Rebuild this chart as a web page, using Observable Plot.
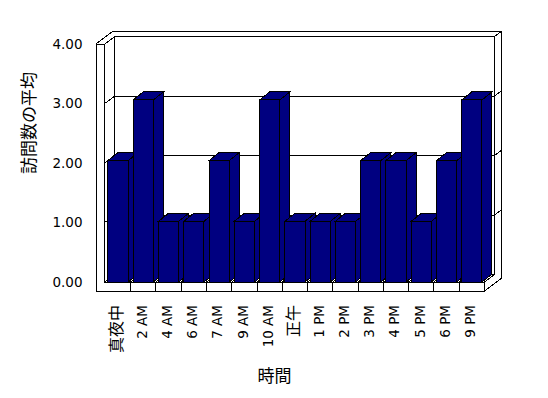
<!DOCTYPE html>
<html>
<head>
<meta charset="utf-8">
<script src="https://cdn.jsdelivr.net/npm/d3@7"></script>
<script src="https://cdn.jsdelivr.net/npm/@observablehq/plot@0.6"></script>
<style>
  html, body { margin: 0; padding: 0; background: white; }
</style>
</head>
<body>
<div id="chart"></div>
<script>
// ---- data ----
const categories = ["真夜中", "2 AM", "4 AM", "6 AM", "7 AM", "9 AM", "10 AM", "正午", "1 PM", "2 PM", "3 PM", "4 PM", "5 PM", "6 PM", "9 PM"];
const visits = [2, 3, 1, 1, 2, 1, 3, 1, 1, 1, 2, 2, 1, 2, 3];
const yTicks = [0, 1, 2, 3, 4];
const yTitle = "訪問数の平均";
const xTitle = "時間";

const data = categories.map((c, i) => ({cat: c, val: visits[i]}));

// ---- 3D look (pixel offsets for depth) ----
const NAVY = "#000080";
const D_IN = [9.7, -7.2];    // front -> back wall inner face
const D_OUT = [17.2, -13];   // front -> back wall outer face
const BD = [10, -8];         // bar depth
const RISE = 1.02;           // bars slightly taller than front axis (perspective)
const WALL = 8.7;            // left wall thickness
const FLOOR = 9;             // floor thickness

function frame3d(index, {x, y}) {
  const g = d3.create("svg:g")
    .attr("fill", "none").attr("stroke", "black").attr("stroke-width", 1)
    .attr("shape-rendering", "crispEdges");
  const [X0, XR] = x.range();
  const xi = X0 - 0.7, xo = xi - WALL;
  const Y0 = y(0), Yt = y(yTicks[yTicks.length - 1]), Yb = Y0 + FLOOR;
  const line = (a, b, c, d) => g.append("line").attr("x1", a).attr("y1", b).attr("x2", c).attr("y2", d);

  g.append("path").attr("fill", "white")
    .attr("d", `M${xi + D_IN[0]},${Yt + D_IN[1]}H${XR + D_IN[0]}V${Y0 + D_IN[1]}H${xi + D_IN[0]}Z`);
  line(xo + D_OUT[0], Yt + D_OUT[1], XR + D_OUT[0], Yt + D_OUT[1]);
  line(XR + D_OUT[0], Yt + D_OUT[1], XR + D_OUT[0], Yb + D_OUT[1]);
  line(XR + D_IN[0], Yt + D_IN[1], XR + D_OUT[0], Yt + D_OUT[1]);
  line(xo, Yt, xo + D_OUT[0], Yt + D_OUT[1]);
  line(xi, Yt, xi + D_IN[0], Yt + D_IN[1]);
  line(XR, Y0, XR + D_IN[0], Y0 + D_IN[1]);
  line(XR, Yb, XR + D_OUT[0], Yb + D_OUT[1]);
  line(xi, Y0, xi + D_IN[0], Y0 + D_IN[1]);
  yTicks.slice(1, -1).forEach(v => {
    const f = y(v);
    line(xo, f, xi, f);
    line(xi, f, xi + D_IN[0], f + D_IN[1]);
    line(xi + D_IN[0], f + D_IN[1], XR + D_IN[0], f + D_IN[1]);
    line(XR + D_IN[0], f + D_IN[1], XR + D_OUT[0], f + D_OUT[1]);
  });
  categories.slice(1).forEach(c => {
    const xb = x(c);
    line(xb, Y0, xb + D_IN[0], Y0 + D_IN[1]);
  });
  g.append("path").attr("fill", "white")
    .attr("d", `M${xo},${Yt}H${xi}V${Y0}H${XR}V${Yb}H${xo}Z`);
  categories.slice(1).forEach(c => line(x(c), Y0, x(c), Yb));
  return g.node();
}

function bars3d(index, {x, y}) {
  const g = d3.create("svg:g")
    .attr("stroke", "black").attr("stroke-width", 1).attr("fill", NAVY)
    .attr("shape-rendering", "crispEdges");
  const bw = x.bandwidth();
  const Y0 = y(0);
  data.forEach(d => {
    const xl = x(d.cat) + 0.1 * bw, xr = xl + 0.8 * bw;
    const yt = Y0 - (Y0 - y(d.val)) * RISE;
    g.append("path").attr("d", `M${xr},${Y0}L${xr + BD[0]},${Y0 + BD[1]}L${xr + BD[0]},${yt + BD[1]}L${xr},${yt}Z`);
    g.append("path").attr("d", `M${xl},${yt}L${xl + BD[0]},${yt + BD[1]}L${xr + BD[0]},${yt + BD[1]}L${xr},${yt}Z`);
    g.append("rect").attr("x", xl).attr("y", yt).attr("width", xr - xl).attr("height", Y0 - yt);
  });
  return g.node();
}

const isCJK = s => /[^\x00-\x7f]/.test(s);

const chart = Plot.plot({
  width: 548,
  height: 398,
  margin: 0,
  style: {background: "white", color: "black", fontFamily: "'DejaVu Sans', 'Noto Sans CJK JP', sans-serif"},
  x: {type: "band", domain: categories, range: [105.4, 484.5], padding: 0, round: false, axis: null},
  y: {domain: [0, 4], range: [282, 44], axis: null},
  marks: [
    frame3d,
    bars3d,
    Plot.text(yTicks, {y: d => d, text: d => d.toFixed(2), frameAnchor: "left", dx: 82, textAnchor: "end", fontSize: 13.5, fill: "black"}),
    Plot.text(data, {x: "cat", y: () => 0, text: "cat", rotate: -90, textAnchor: "end", lineAnchor: "middle",
      dx: -1.5, dy: 22.5, fontSize: d => isCJK(d.cat) ? 16 : 13.5, fill: "black"}),
    Plot.text([yTitle], {text: d => d, frameAnchor: "top-left", dx: 22, dy: 173.5, rotate: -90, fontSize: 17, fontFamily: "'Noto Sans CJK JP'", fill: "black"}),
    Plot.text([xTitle], {text: d => d, frameAnchor: "top-left", dx: 257, dy: 369, fontSize: 17, fontFamily: "'Noto Sans CJK JP'", fill: "black"})
  ]
});
document.getElementById("chart").appendChild(chart);
</script>
</body>
</html>
